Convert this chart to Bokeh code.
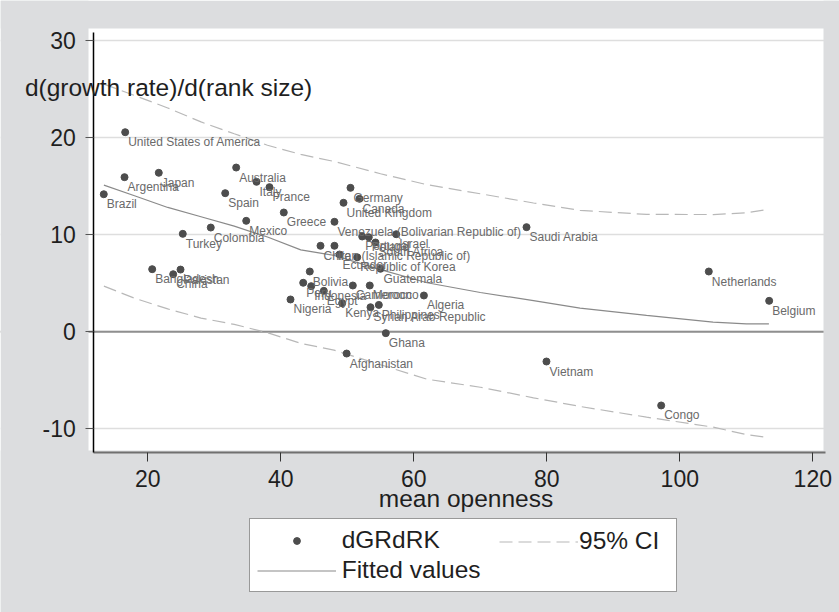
from bokeh.plotting import figure
from bokeh.models import (Range1d, FixedTicker, Span, Legend, LegendItem, Label,
                          BoxAnnotation, ColumnDataSource)
from bokeh.core.properties import value
from bokeh.embed import file_html
from bokeh.resources import INLINE

# ---------------- data ----------------
countries = [
    "United States of America", "Argentina", "Brazil", "Japan", "Australia",
    "Italy", "France", "Spain", "Greece", "Mexico", "Colombia", "Turkey",
    "Germany", "Canada", "United Kingdom", "Venezuela (Bolivarian Republic of)",
    "Saudi Arabia", "Portugal", "Poland", "Israel", "South Africa", "Chile",
    "Iran (Islamic Republic of)", "Ecuador", "Republic of Korea", "Guatemala",
    "Bangladesh", "Pakistan", "China", "Bolivia", "Peru", "Indonesia", "Egypt",
    "Nigeria", "Kenya", "Cameroon", "Morocco", "Algeria",
    "Syrian Arab Republic", "Philippines", "Ghana", "Afghanistan",
    "Netherlands", "Belgium", "Vietnam", "Congo",
]
openness = [
    16.60, 16.50, 13.38, 21.65, 33.29,
    36.35, 38.30, 31.64, 40.45, 34.80, 29.47, 25.26,
    50.48, 51.83, 49.43, 48.07,
    76.95, 52.24, 53.23, 57.35, 54.24, 45.97,
    48.07, 48.83, 51.49, 54.99,
    20.66, 24.92, 23.82, 44.36, 43.37, 44.57, 46.47,
    41.46, 49.23, 50.83, 53.38, 61.52,
    53.49, 54.74, 55.79, 49.90,
    104.36, 113.44, 79.95, 97.20,
]
dgrdrk = [
    20.55, 15.92, 14.16, 16.37, 16.91,
    15.44, 14.89, 14.27, 12.28, 11.42, 10.73, 10.08,
    14.82, 13.69, 13.28, 11.32,
    10.77, 9.81, 9.73, 10.04, 9.19, 8.85,
    8.85, 7.95, 7.67, 6.48,
    6.44, 6.40, 5.92, 6.20, 5.04, 4.69, 4.21,
    3.32, 2.94, 4.76, 4.76, 3.73,
    2.52, 2.76, -0.15, -2.25,
    6.20, 3.18, -3.07, -7.60,
]

fit_open = [13.4, 18, 23, 28, 33, 38, 43, 48, 55, 62, 70, 78, 85, 95, 105, 110, 113.4]
fit_values = [15.1, 14.01, 12.8, 11.84, 10.88, 9.75, 8.43, 7.87, 6.39, 5.04, 4.04,
              3.2, 2.43, 1.68, 0.99, 0.81, 0.81]
ci_upper = [25.5, 24.34, 23.05, 21.61, 20.39, 19.21, 18.26, 17.54, 16.27, 15.14, 14.21,
            13.26, 12.5, 12.08, 12.07, 12.25, 12.6]
ci_lower = [4.7, 3.45, 2.35, 1.4, 0.75, -0.1, -1.2, -1.9, -3.4, -4.9, -5.72,
            -6.81, -7.7, -8.8, -9.83, -10.6, -10.9]

x_ticks = [20, 40, 60, 80, 100, 120]
y_ticks = [-10, 0, 10, 20, 30]

x_title = "mean openness"
y_title = "d(growth rate)/d(rank size)"

# ---------------- layout constants (page pixels) ----------------
W, H = 839, 612
PX0, PXS = 14.3, 6.65        # page x of openness 0, px per unit
PY0, PYS = 331.2, 9.7075     # page y of value 0, px per unit


def dx(px):
    return (px - PX0) / PXS


def dy(py):
    return (PY0 - py) / PYS


FONT = "Liberation Sans"
BG = "#dcdddf"
DARK = "#1f1f1f"

p = figure(width=W, height=H,
           x_range=Range1d(dx(0), dx(W)), y_range=Range1d(dy(H), dy(0)),
           output_backend="svg", toolbar_location=None, title=None,
           min_border_left=0, min_border_right=0, min_border_top=0,
           min_border_bottom=0, border_fill_color=BG,
           background_fill_color="white", outline_line_color=None)

# grid / reference line (underlay), then grey surround covering outside the plot region
p.xgrid.visible = False
p.ygrid.grid_line_color = "#dedede"
p.ygrid.grid_line_width = 1.5
p.add_layout(Span(location=0, dimension="width", line_color="#8f8f8f",
                  line_width=2, level="underlay"))
for kw in (dict(right=dx(88)), dict(left=dx(823)), dict(bottom=dy(28)),
           dict(top=dy(450))):
    p.add_layout(BoxAnnotation(fill_color=BG, fill_alpha=1.0, line_color=None,
                               level="underlay", **kw))

src = ColumnDataSource(dict(x=openness, y=dgrdrk, name=countries))

ci_up = p.line(fit_open, ci_upper, line_color="#b8b8b8", line_width=1.2, line_dash="13 6")
ci_lo = p.line(fit_open, ci_lower, line_color="#b8b8b8", line_width=1.2, line_dash="13 6")
fit = p.line(fit_open, fit_values, line_color="#8a8a8a", line_width=1.2)
pts = p.scatter("x", "y", source=src, size=7, fill_color="#4d4d4d",
                line_color="#4d4d4d")
p.text("x", "y", text="name", source=src, text_font=value(FONT),
       text_font_size=value("12px"), text_color="#6a6a6a", text_align="left",
       text_baseline="top", x_offset=3, y_offset=3)

# axes, fixed at the plot region's edges
p.xaxis.fixed_location = dy(451.5)
p.xaxis.bounds = (dx(93.3), dx(825))
p.yaxis.fixed_location = dx(93.3)
p.yaxis.bounds = (dy(451.5), dy(32))

p.xaxis.ticker = FixedTicker(ticks=x_ticks)
p.yaxis.ticker = FixedTicker(ticks=y_ticks)
p.yaxis.major_label_overrides = {t: str(t) for t in y_ticks}

p.xaxis.axis_line_color = "#707070"
p.xaxis.axis_line_width = 2
p.xaxis.major_tick_out = 9
p.xaxis.major_tick_in = 0
p.xaxis.major_tick_line_color = "#333333"
p.xaxis.major_label_standoff = 9

p.yaxis.axis_line_color = "black"
p.yaxis.axis_line_width = 1.5
p.yaxis.major_tick_out = 8
p.yaxis.major_tick_in = 0
p.yaxis.major_tick_line_color = "#555555"
p.yaxis.major_label_standoff = 10

for ax in (p.xaxis, p.yaxis):
    ax.major_label_text_font = FONT
    ax.major_label_text_font_size = "23px"
    ax.major_label_text_color = DARK
    ax.minor_tick_line_color = None

# titles
p.add_layout(Label(x=dx(24.4), y=dy(87), text=y_title, text_font=FONT,
                   text_font_size="24.5px", text_color=DARK,
                   text_align="left", text_baseline="middle"))
p.add_layout(Label(x=dx(465.5), y=dy(498), text=x_title, text_font=FONT,
                   text_font_size="24.5px", text_color=DARK,
                   text_align="center", text_baseline="middle"))

# legend: boxed part (dGRdRK, Fitted values) + the "95% CI" entry on its right
common = dict(glyph_height=17, label_height=28, label_text_font=FONT,
              label_text_font_size="24.5px", label_text_color=DARK,
              inactive_fill_alpha=0.0, margin=0)
legA = Legend(items=[LegendItem(label="dGRdRK", renderers=[pts]),
                     LegendItem(label="Fitted values", renderers=[fit])],
              location=(248.7, H - 520 - 72), orientation="vertical",
              padding=7, spacing=2, glyph_width=79, label_width=327, label_standoff=6,
              border_line_color="#333333", border_line_width=1.5,
              background_fill_color="white", background_fill_alpha=1.0, **common)
legB = Legend(items=[LegendItem(label="95% CI", renderers=[ci_up])],
              location=(499, H - 527 - 28), padding=0, spacing=0,
              glyph_width=79, label_standoff=1,
              border_line_color=None, background_fill_alpha=0.0, **common)
p.add_layout(legA)
p.add_layout(legB)

open("out.html", "w").write(file_html(p, INLINE))
